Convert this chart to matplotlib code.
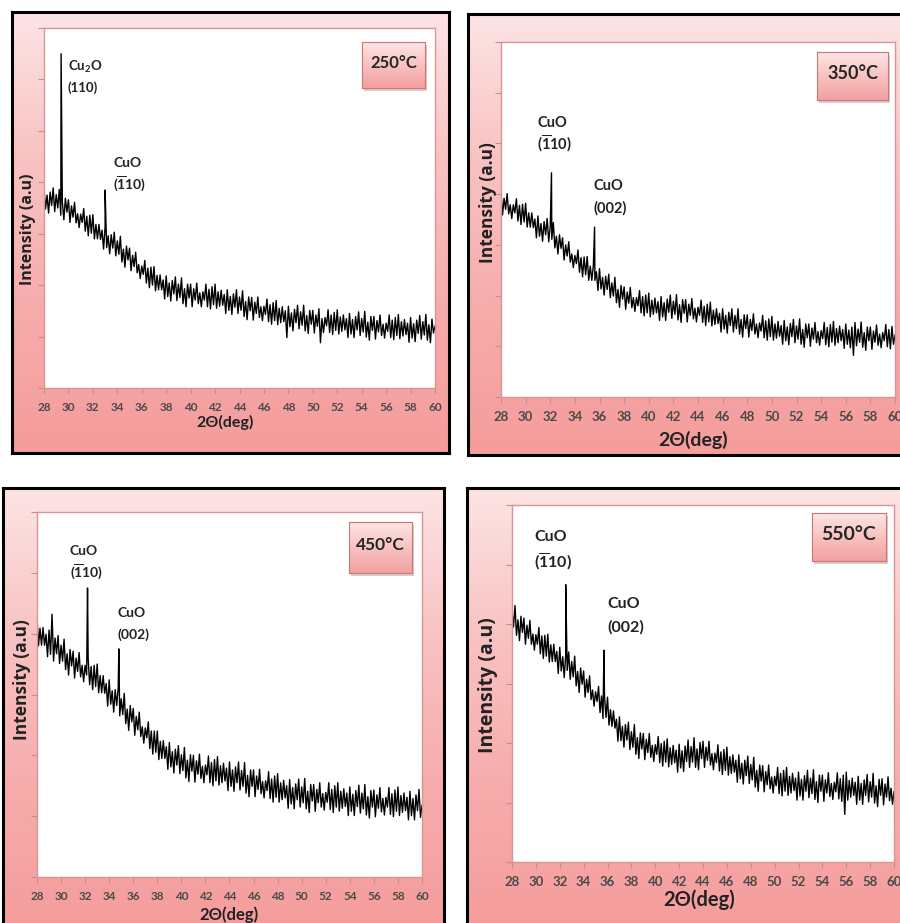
import numpy as np
import matplotlib
matplotlib.use('Agg')
import matplotlib.pyplot as plt
from matplotlib.colors import LinearSegmentedColormap
from matplotlib.patches import Rectangle

plt.rcParams['font.family'] = ['Lato', 'DejaVu Sans']
plt.rcParams['font.weight'] = 'bold'
plt.rcParams['mathtext.fontset'] = 'custom'
plt.rcParams['mathtext.rm'] = 'Lato:bold'
plt.rcParams['mathtext.it'] = 'Lato:bold'
plt.rcParams['mathtext.bf'] = 'Lato:bold'
plt.rcParams['mathtext.default'] = 'rm'

# 2theta sampling of the read-off traces: two interleaved 0.25 deg grids
two_theta_a = np.linspace(28, 60, 129)
two_theta_b = np.linspace(28.125, 59.875, 128)
xticks = list(range(28, 61, 2))

# intensity (a.u.): upper swings of the noise, grid a
u250 = [3.88, 3.75, 3.81, 3.89, 3.76, 3.86, 3.62, 3.69, 3.66, 3.54, 3.61, 3.39,
        3.38, 3.49, 3.34, 3.36, 3.37, 3.18, 3.18, 3.07, 3.13, 2.96, 2.98, 3.03,
        2.86, 2.95, 2.70, 2.76, 2.72, 2.58, 2.64, 2.40, 2.37, 2.48, 2.33, 2.35,
        2.36, 2.19, 2.20, 2.10, 2.18, 2.04, 2.09, 2.16, 2.02, 2.14, 1.93, 2.02,
        2.02, 1.93, 2.04, 1.85, 1.87, 2.02, 1.92, 1.97, 2.02, 1.87, 1.90, 1.82,
        1.91, 1.78, 1.83, 1.91, 1.77, 1.89, 1.68, 1.77, 1.76, 1.67, 1.77, 1.58,
        1.59, 1.73, 1.62, 1.66, 1.70, 1.55, 1.58, 1.50, 1.59, 1.46, 1.53, 1.61,
        1.48, 1.61, 1.41, 1.51, 1.51, 1.42, 1.54, 1.35, 1.37, 1.52, 1.42, 1.47,
        1.52, 1.38, 1.42, 1.35, 1.45, 1.33, 1.39, 1.48, 1.35, 1.49, 1.28, 1.39,
        1.39, 1.31, 1.42, 1.24, 1.26, 1.42, 1.32, 1.37, 1.43, 1.29, 1.33, 1.26,
        1.37, 1.25, 1.32, 1.41, 1.29, 1.43, 1.23, 1.34, 1.20]
u350 = [4.03, 3.92, 4.01, 3.79, 3.79, 3.91, 3.78, 3.80, 3.82, 3.63, 3.63, 3.51,
        3.57, 3.42, 3.46, 3.52, 3.37, 3.44, 3.17, 3.20, 3.14, 3.00, 3.06, 2.82,
        2.79, 2.90, 2.75, 2.76, 2.77, 2.58, 2.59, 2.47, 2.53, 2.36, 2.38, 2.42,
        2.25, 2.36, 2.12, 2.20, 2.17, 2.07, 2.16, 1.96, 1.96, 2.10, 1.98, 2.01,
        2.05, 1.91, 1.95, 1.88, 1.98, 1.86, 1.93, 2.01, 1.89, 2.02, 1.82, 1.92,
        1.92, 1.83, 1.94, 1.75, 1.77, 1.91, 1.79, 1.83, 1.87, 1.71, 1.74, 1.65,
        1.74, 1.61, 1.67, 1.74, 1.61, 1.74, 1.53, 1.62, 1.62, 1.53, 1.64, 1.44,
        1.46, 1.61, 1.50, 1.54, 1.59, 1.44, 1.49, 1.41, 1.51, 1.38, 1.45, 1.53,
        1.40, 1.54, 1.33, 1.44, 1.44, 1.36, 1.47, 1.29, 1.31, 1.47, 1.37, 1.43,
        1.49, 1.35, 1.40, 1.33, 1.44, 1.32, 1.38, 1.47, 1.34, 1.48, 1.27, 1.38,
        1.38, 1.30, 1.42, 1.24, 1.27, 1.43, 1.33, 1.39, 1.22]
u450 = [4.27, 4.09, 4.10, 3.99, 4.06, 4.32, 3.93, 3.97, 3.81, 3.91, 3.67, 3.74,
        3.71, 3.60, 3.69, 3.48, 3.48, 3.60, 3.46, 3.48, 3.50, 3.31, 3.31, 3.18,
        3.24, 3.06, 3.08, 3.11, 2.93, 3.02, 2.76, 2.82, 2.77, 2.64, 2.71, 2.47,
        2.45, 2.55, 2.40, 2.40, 2.40, 2.23, 2.24, 2.14, 2.21, 2.06, 2.10, 2.16,
        2.01, 2.13, 1.92, 2.01, 2.00, 1.91, 2.02, 1.82, 1.84, 1.99, 1.88, 1.93,
        1.98, 1.83, 1.87, 1.79, 1.89, 1.76, 1.81, 1.89, 1.75, 1.88, 1.67, 1.76,
        1.76, 1.66, 1.77, 1.57, 1.58, 1.73, 1.61, 1.66, 1.70, 1.55, 1.59, 1.50,
        1.60, 1.47, 1.53, 1.61, 1.48, 1.62, 1.41, 1.52, 1.52, 1.44, 1.55, 1.37,
        1.39, 1.55, 1.44, 1.50, 1.55, 1.41, 1.45, 1.38, 1.48, 1.36, 1.42, 1.51,
        1.38, 1.52, 1.32, 1.42, 1.43, 1.35, 1.47, 1.29, 1.31, 1.47, 1.37, 1.43,
        1.48, 1.34, 1.38, 1.31, 1.41, 1.29, 1.35, 1.44, 1.18]
u550 = [4.21, 4.31, 4.07, 4.13, 4.10, 3.98, 4.06, 3.83, 3.82, 3.94, 3.80, 3.81,
        3.83, 3.65, 3.66, 3.54, 3.61, 3.45, 3.48, 3.53, 3.37, 3.46, 3.20, 3.26,
        3.21, 3.07, 3.13, 2.89, 2.86, 2.95, 2.79, 2.78, 2.77, 2.56, 2.54, 2.40,
        2.44, 2.28, 2.31, 2.35, 2.19, 2.31, 2.09, 2.17, 2.16, 2.06, 2.16, 1.96,
        1.97, 2.11, 1.99, 2.03, 2.07, 1.92, 1.96, 1.88, 1.98, 1.87, 1.95, 2.05,
        1.94, 2.09, 1.90, 2.01, 2.03, 1.93, 2.03, 1.82, 1.83, 1.97, 1.85, 1.89,
        1.93, 1.77, 1.80, 1.71, 1.80, 1.66, 1.71, 1.78, 1.64, 1.76, 1.54, 1.63,
        1.62, 1.52, 1.63, 1.43, 1.44, 1.59, 1.49, 1.54, 1.59, 1.44, 1.49, 1.41,
        1.51, 1.39, 1.45, 1.54, 1.41, 1.55, 1.35, 1.46, 1.46, 1.38, 1.50, 1.32,
        1.34, 1.50, 1.40, 1.46, 1.51, 1.37, 1.41, 1.34, 1.44, 1.32, 1.38, 1.47,
        1.35, 1.49, 1.28, 1.39, 1.40, 1.31, 1.43, 1.24, 1.18]

# intensity (a.u.): lower swings of the noise, grid b
l250 = [3.48, 3.40, 3.55, 3.43, 3.50, 3.36, 3.27, 3.42, 3.22, 3.32, 3.21, 3.12,
        3.22, 3.05, 2.96, 3.01, 2.90, 2.90, 2.89, 2.70, 2.73, 2.61, 2.72, 2.57,
        2.60, 2.45, 2.35, 2.49, 2.28, 2.36, 2.24, 2.13, 2.21, 2.04, 1.95, 2.00,
        1.89, 1.91, 1.91, 1.73, 1.78, 1.69, 1.83, 1.70, 1.76, 1.64, 1.58, 1.75,
        1.58, 1.71, 1.64, 1.58, 1.71, 1.58, 1.54, 1.62, 1.55, 1.59, 1.61, 1.45,
        1.51, 1.43, 1.57, 1.45, 1.51, 1.39, 1.33, 1.50, 1.32, 1.45, 1.37, 1.31,
        1.43, 1.29, 1.24, 1.31, 1.23, 1.27, 1.29, 0.98, 1.19, 1.11, 1.27, 1.15,
        1.22, 1.11, 1.06, 1.24, 1.07, 1.20, 0.88, 1.08, 1.21, 1.08, 1.04, 1.12,
        1.05, 1.10, 1.13, 0.98, 1.05, 0.98, 1.13, 1.02, 1.09, 0.99, 0.93, 1.12,
        0.95, 1.09, 1.02, 0.97, 1.10, 0.98, 0.94, 1.02, 0.96, 1.01, 1.04, 0.89,
        0.97, 0.90, 1.06, 0.95, 1.03, 0.93, 0.88, 1.07]
l350 = [3.59, 3.70, 3.61, 3.52, 3.63, 3.47, 3.40, 3.45, 3.35, 3.35, 3.34, 3.14,
        3.17, 3.07, 3.20, 3.06, 3.11, 2.94, 2.82, 2.93, 2.70, 2.78, 2.66, 2.55,
        2.63, 2.46, 2.37, 2.41, 2.30, 2.30, 2.30, 2.10, 2.13, 2.01, 2.12, 1.96,
        1.99, 1.86, 1.77, 1.93, 1.73, 1.85, 1.76, 1.69, 1.80, 1.66, 1.60, 1.66,
        1.58, 1.63, 1.66, 1.51, 1.58, 1.51, 1.67, 1.55, 1.63, 1.52, 1.47, 1.65,
        1.48, 1.61, 1.54, 1.48, 1.61, 1.47, 1.41, 1.48, 1.40, 1.43, 1.45, 1.28,
        1.34, 1.26, 1.41, 1.28, 1.35, 1.24, 1.18, 1.35, 1.18, 1.31, 1.24, 1.17,
        1.30, 1.17, 1.12, 1.19, 1.12, 1.16, 1.20, 1.04, 1.11, 1.03, 1.19, 1.07,
        1.14, 1.04, 0.98, 1.17, 1.00, 1.14, 1.07, 1.02, 1.15, 1.03, 0.99, 1.08,
        1.02, 1.07, 1.11, 0.96, 1.04, 0.97, 0.82, 1.01, 1.08, 0.98, 0.92, 1.11,
        0.94, 1.08, 1.02, 0.97, 1.11, 0.99, 0.95, 1.04]
l450 = [3.80, 3.81, 3.81, 3.62, 3.66, 3.55, 3.67, 3.51, 3.55, 3.41, 3.32, 3.47,
        3.27, 3.38, 3.29, 3.21, 3.32, 3.16, 3.08, 3.13, 3.03, 3.03, 3.02, 2.81,
        2.84, 2.71, 2.82, 2.65, 2.67, 2.52, 2.41, 2.55, 2.33, 2.42, 2.31, 2.20,
        2.29, 2.11, 2.02, 2.05, 1.93, 1.95, 1.95, 1.77, 1.81, 1.71, 1.84, 1.70,
        1.75, 1.63, 1.57, 1.74, 1.56, 1.69, 1.62, 1.55, 1.68, 1.55, 1.50, 1.58,
        1.51, 1.55, 1.58, 1.42, 1.49, 1.41, 1.55, 1.43, 1.49, 1.38, 1.32, 1.49,
        1.32, 1.44, 1.37, 1.30, 1.42, 1.29, 1.23, 1.31, 1.23, 1.27, 1.30, 1.13,
        1.20, 1.12, 1.27, 1.15, 1.22, 1.12, 1.06, 1.25, 1.08, 1.22, 1.15, 1.10,
        1.23, 1.11, 1.06, 1.15, 1.08, 1.13, 1.16, 1.01, 1.08, 1.01, 1.16, 1.05,
        1.12, 1.02, 0.97, 1.15, 0.99, 1.13, 1.07, 1.02, 1.15, 1.03, 0.99, 1.08,
        1.01, 1.06, 1.09, 0.94, 1.01, 0.94, 1.09, 0.98]
l550 = [3.95, 3.81, 3.72, 3.86, 3.66, 3.76, 3.66, 3.56, 3.66, 3.50, 3.42, 3.46,
        3.36, 3.37, 3.37, 3.17, 3.21, 3.10, 3.22, 3.07, 3.11, 2.96, 2.85, 2.99,
        2.77, 2.85, 2.73, 2.62, 2.70, 2.51, 2.41, 2.43, 2.30, 2.28, 2.25, 2.03,
        2.04, 1.93, 2.05, 1.89, 1.93, 1.81, 1.74, 1.90, 1.72, 1.84, 1.76, 1.69,
        1.81, 1.67, 1.61, 1.68, 1.60, 1.64, 1.67, 1.51, 1.58, 1.52, 1.69, 1.59,
        1.68, 1.59, 1.55, 1.74, 1.59, 1.71, 1.63, 1.55, 1.67, 1.53, 1.47, 1.54,
        1.46, 1.49, 1.51, 1.34, 1.40, 1.31, 1.45, 1.32, 1.38, 1.26, 1.19, 1.36,
        1.18, 1.30, 1.23, 1.16, 1.28, 1.15, 1.11, 1.19, 1.12, 1.16, 1.20, 1.04,
        1.11, 1.04, 1.19, 1.08, 1.15, 1.05, 1.00, 1.19, 1.02, 1.16, 1.10, 1.05,
        1.18, 1.06, 1.02, 0.80, 1.04, 1.09, 1.12, 0.97, 1.04, 0.97, 1.12, 1.01,
        1.09, 0.99, 0.93, 1.12, 0.96, 1.09, 1.03, 0.97]

# sharp reflections (position, top)
peaks250_x = [29.4, 33.0]
peaks250_y = [6.5, 3.85]
peaks350_x = [32.1, 35.6]
peaks350_y = [4.42, 3.35]
peaks450_x = [32.2, 34.8]
peaks450_y = [4.75, 3.75]
peaks550_x = [32.5, 35.7]
peaks550_y = [4.66, 3.56]

labels = ['250°C', '350°C', '450°C', '550°C']

W, H = 900, 923
fig = plt.figure(figsize=(W / 100, H / 100), dpi=100)


def px_axes(x0, y0, x1, y1, **kw):
    return fig.add_axes([x0 / W, 1 - y1 / H, (x1 - x0) / W, (y1 - y0) / H], **kw)


def ftext(x, y, s, **kw):
    fig.text(x / W, 1 - y / H, s, **kw)


bg_cmap = LinearSegmentedColormap.from_list('bg', ['#fde4e4', '#f9c2c2', '#f7acac', '#f59c9c'])
box_cmap = LinearSegmentedColormap.from_list('bx', ['#fde6e6', '#f8c2c2', '#f3a0a0'])
vert = np.linspace(0, 1, 200)[:, None] * np.ones((1, 10))


def panel(outer, inner, ymax, ya, yb, pk_x, pk_y, label, tbox, tsize, lsize, ylab, xlab, tick_fs):
    # pink frame
    bg = px_axes(*outer, zorder=0)
    bg.imshow(vert, cmap=bg_cmap, aspect='auto', extent=[0, 1, 0, 1], vmin=0, vmax=1)
    bg.set_xticks([])
    bg.set_yticks([])
    for s in bg.spines.values():
        s.set_color('black')
        s.set_linewidth(2.2)

    ax = px_axes(*inner, zorder=2)
    ax.set_facecolor('white')
    xs = np.concatenate([two_theta_a, two_theta_b, pk_x])
    ys = np.concatenate([np.array(ya), np.array(yb), pk_y])
    order = np.argsort(xs)
    ax.plot(xs[order], ys[order], color='black', lw=1.0)
    ax.set_xlim(28, 60)
    ax.set_ylim(0, ymax)
    ax.set_xticks(xticks)
    ax.set_xticklabels([str(t) for t in xticks])
    ax.set_yticks(range(0, ymax + 1))
    ax.set_yticklabels([])
    ax.tick_params(colors='#c98c8c', length=4, width=0.8, labelcolor='#4a4a4a',
                   labelsize=tick_fs, pad=6)
    for s in ax.spines.values():
        s.set_color('#d99595')
        s.set_linewidth(1.0)

    # temperature box
    x0, y0, x1, y1 = tbox
    fig.patches.append(Rectangle(((x0 + 2) / W, 1 - (y1 + 3) / H), (x1 - x0) / W, (y1 - y0) / H,
                                 transform=fig.transFigure, facecolor='#b9a9a9',
                                 edgecolor='none', zorder=3, alpha=0.6))
    tb = px_axes(x0, y0, x1, y1, zorder=4)
    tb.imshow(vert, cmap=box_cmap, aspect='auto', extent=[0, 1, 0, 1])
    tb.set_xticks([])
    tb.set_yticks([])
    for s in tb.spines.values():
        s.set_color('#d27474')
        s.set_linewidth(0.8)
    tb.text(0.5, 0.55, label, transform=tb.transAxes, ha='center', va='center',
            fontsize=tsize, fontweight='bold', color='#262626')

    ftext(ylab[0], ylab[1], 'Intensity (a.u)', rotation=90, ha='center', va='center',
          fontsize=lsize, fontweight='bold', color='#222222',
          family=['Open Sans', 'DejaVu Sans'])
    ftext(xlab[0], xlab[1], '2Θ(deg)', ha='center', va='center',
          fontsize=xlab[2], fontweight='bold', color='#222222')
    return ax


panel((12, 12, 449, 453), (44, 28, 435, 388), 7, u250, l250, peaks250_x, peaks250_y, labels[0],
      (362, 42, 425, 88), 12, 11.5, (28, 229), (225, 422, 11.5), 8.5)
panel((468, 14, 910, 455), (501, 42, 895, 397), 7, u350, l350, peaks350_x, peaks350_y, labels[1],
      (817, 52, 888, 100), 13, 12.5, (488, 203), (693, 440, 14), 9.5)
panel((3, 488, 444, 935), (37, 512, 422, 877), 6, u450, l450, peaks450_x, peaks450_y, labels[2],
      (349, 522, 412, 573), 12.5, 12.5, (22, 680), (229, 915, 12), 8.5)
panel((467, 488, 910, 935), (512, 505, 894, 862), 6, u550, l550, peaks550_x, peaks550_y, labels[3],
      (812, 513, 886, 561), 14, 14, (488, 685), (699, 900, 14.5), 9.5)

# reflection labels
ann = [
    (68, 67, 88, 'Cu$_2$O', '(110)', 9.5),
    (113, 163, 184, 'CuO', r'$(\overline{1}10)$', 10),
    (537, 123, 144, 'CuO', r'$(\overline{1}10)$', 10.5),
    (594, 186, 208, 'CuO', '(002)', 10.5),
    (70, 551, 572, 'CuO', r'$(\overline{1}10)$', 10),
    (117, 613, 635, 'CuO', '(002)', 10),
    (534, 537, 562, 'CuO', r'$(\overline{1}10)$', 11.5),
    (607, 604, 627, 'CuO', '(002)', 11.5),
]
for x, ya, yb, t1, t2, fs in ann:
    ftext(x, ya, t1, ha='left', va='center', fontsize=fs, fontweight='bold', color='#222222', zorder=5)
    ftext(x, yb, t2, ha='left', va='center', fontsize=fs, fontweight='bold', color='#222222', zorder=5)

fig.savefig('out.png', dpi=100)
